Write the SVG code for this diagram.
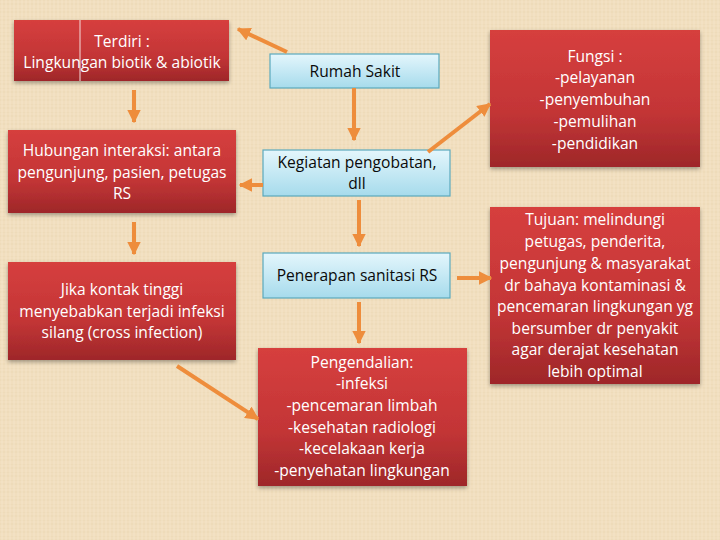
<svg xmlns="http://www.w3.org/2000/svg" width="720" height="540" viewBox="0 0 720 540">
<defs>
<linearGradient id="red" x1="0" y1="0" x2="0" y2="1">
<stop offset="0" stop-color="#D63F3E"/>
<stop offset="0.6" stop-color="#C33536"/>
<stop offset="1" stop-color="#9E2729"/>
</linearGradient>
<linearGradient id="blue" x1="0" y1="0" x2="0" y2="1">
<stop offset="0" stop-color="#E4F6FC"/>
<stop offset="1" stop-color="#A6DBEC"/>
</linearGradient>
<pattern id="tex" width="8" height="8" patternUnits="userSpaceOnUse">
<rect width="8" height="8" fill="#F1DEBE"/>
<path d="M0 0H8M0 4H8" stroke="#E7D2AE" stroke-width="0.6"/>
<path d="M2 0V8M6 0V8" stroke="#F6E8CF" stroke-width="0.6"/>
</pattern>
<filter id="sh" x="-10%" y="-10%" width="120%" height="130%">
<feGaussianBlur in="SourceAlpha" stdDeviation="2"/>
<feOffset dy="2"/>
<feComponentTransfer><feFuncA type="linear" slope="0.35"/></feComponentTransfer>
<feMerge><feMergeNode/><feMergeNode in="SourceGraphic"/></feMerge>
</filter>
<marker id="ah" viewBox="0 0 10 10" refX="9" refY="5" markerWidth="3.4" markerHeight="3.4" orient="auto" markerUnits="strokeWidth">
<path d="M0 0L10 5L0 10z" fill="#EE8D3C"/>
</marker>
<style>
.r{fill:url(#red);filter:url(#sh)}
.b{fill:url(#blue);stroke:#5AA9BD;stroke-width:1.2}
.t{font-family:"Open Sans","Liberation Sans",sans-serif;font-size:15.6px;text-anchor:middle}
.w{fill:#FFFFFF}
.k{fill:#0A0A0A}
.c{stroke:#EE8D3C;stroke-width:4;fill:none;marker-end:url(#ah)}
</style>
</defs>
<rect width="720" height="540" fill="url(#tex)"/>
<g id="n_terdiri">
<rect class="r" x="14" y="20" width="215" height="61"/>
<line x1="80" y1="20" x2="80" y2="81" stroke="#F4DCDC" stroke-width="1"/>
<text class="t w" x="122" y="47">Terdiri :</text>
<text class="t w" x="122" y="68">Lingkungan biotik &amp; abiotik</text>
</g>
<g id="n_hubungan">
<rect class="r" x="8" y="130" width="228" height="83"/>
<text class="t w" x="122" y="156">Hubungan interaksi: antara</text>
<text class="t w" x="122" y="178">pengunjung, pasien, petugas</text>
<text class="t w" x="122" y="199">RS</text>
</g>
<g id="n_jika">
<rect class="r" x="8" y="262" width="228" height="98"/>
<text class="t w" x="122" y="295">Jika kontak tinggi</text>
<text class="t w" x="122" y="317">menyebabkan terjadi infeksi</text>
<text class="t w" x="122" y="338">silang (cross infection)</text>
</g>
<g id="n_rs">
<rect class="b" x="270" y="54" width="169" height="34"/>
<text class="t k" x="355" y="77">Rumah Sakit</text>
</g>
<g id="n_kegiatan">
<rect class="b" x="263" y="150" width="187" height="46"/>
<text class="t k" x="357" y="168">Kegiatan pengobatan,</text>
<text class="t k" x="357" y="189">dll</text>
</g>
<g id="n_penerapan">
<rect class="b" x="263" y="253" width="187" height="45"/>
<text class="t k" x="357" y="281">Penerapan sanitasi RS</text>
</g>
<g id="n_pengendalian">
<rect class="r" x="258" y="348" width="209" height="138"/>
<text class="t w" x="362" y="368">Pengendalian:</text>
<text class="t w" x="362" y="389">-infeksi</text>
<text class="t w" x="362" y="411">-pencemaran limbah</text>
<text class="t w" x="362" y="433">-kesehatan radiologi</text>
<text class="t w" x="362" y="454">-kecelakaan kerja</text>
<text class="t w" x="362" y="476">-penyehatan lingkungan</text>
</g>
<g id="n_fungsi">
<rect class="r" x="490" y="30" width="210" height="137"/>
<text class="t w" x="595" y="62">Fungsi :</text>
<text class="t w" x="595" y="83">-pelayanan</text>
<text class="t w" x="595" y="105">-penyembuhan</text>
<text class="t w" x="595" y="127">-pemulihan</text>
<text class="t w" x="595" y="149">-pendidikan</text>
</g>
<g id="n_tujuan">
<rect class="r" x="490" y="207" width="210" height="177"/>
<text class="t w" x="595" y="225">Tujuan: melindungi</text>
<text class="t w" x="595" y="247">petugas, penderita,</text>
<text class="t w" x="595" y="269">pengunjung &amp; masyarakat</text>
<text class="t w" x="595" y="291">dr bahaya kontaminasi &amp;</text>
<text class="t w" x="595" y="312">pencemaran lingkungan yg</text>
<text class="t w" x="595" y="334">bersumber dr penyakit</text>
<text class="t w" x="595" y="355">agar derajat kesehatan</text>
<text class="t w" x="595" y="377">lebih optimal</text>
</g>
<g id="connectors">
<line class="c" x1="287" y1="52" x2="238" y2="29"/>
<line class="c" x1="134" y1="90" x2="134" y2="122"/>
<line class="c" x1="134" y1="222" x2="134" y2="254"/>
<line class="c" x1="177" y1="366" x2="258" y2="419"/>
<line class="c" x1="354" y1="88" x2="354" y2="140"/>
<line class="c" x1="263" y1="185" x2="240" y2="185"/>
<line class="c" x1="428" y1="152" x2="490" y2="104"/>
<line class="c" x1="359" y1="200" x2="359" y2="246"/>
<line class="c" x1="457" y1="278" x2="491" y2="278"/>
<line class="c" x1="359" y1="302" x2="359" y2="343"/>
</g>
</svg>
